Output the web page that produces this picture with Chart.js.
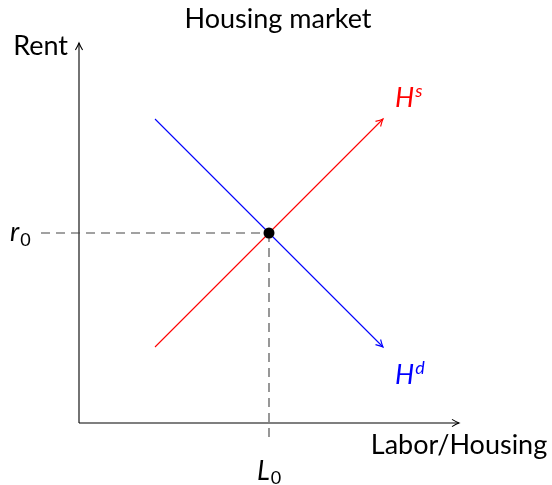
<!DOCTYPE html>
<html>
<head>
<meta charset="utf-8">
<script src="https://cdn.jsdelivr.net/npm/chart.js@4"></script>
<style>
  html, body { margin: 0; padding: 0; background: #fff; }
  #wrap { width: 552px; height: 485px; position: relative; }
</style>
</head>
<body>
<div id="wrap"><canvas id="market"></canvas></div>
<script>
// Data (diagram units, origin at the axes corner)
const supplyX = [1, 4];
const supplyY = [1, 4];
const demandX = [1, 4];
const demandY = [4, 1];
const axisEnd = 5;
const eqX = 2.5;   // L0
const eqY = 2.5;   // r0
const guideStartX = -0.5;
const guideEndY = -0.25;

const TITLE = 'Housing market';
const X_LABEL = 'Labor/Housing';
const Y_LABEL = 'Rent';

const pts = (xs, ys) => xs.map((x, i) => ({ x, y: ys[i] }));

const RED = 'rgb(255,0,0)';
const BLUE = 'rgb(0,0,255)';
const FONT = 'Lato, "DejaVu Sans", sans-serif';

function arrowHead(ctx, x0, y0, x1, y1, color) {
  const a = Math.atan2(y1 - y0, x1 - x0);
  const len = 7, spread = 3.6;
  ctx.save();
  ctx.translate(x1, y1);
  ctx.rotate(a);
  ctx.strokeStyle = color;
  ctx.lineWidth = 1.1;
  ctx.beginPath();
  ctx.moveTo(-len, -spread);
  ctx.quadraticCurveTo(-len * 0.35, -spread * 0.25, 0, 0);
  ctx.quadraticCurveTo(-len * 0.35, spread * 0.25, -len, spread);
  ctx.stroke();
  ctx.restore();
}

// main symbol in italic plus a small upright/italic index after it
function indexed(ctx, main, idx, x, y, dy, idxItalic) {
  ctx.textAlign = 'left';
  ctx.font = 'italic 27px ' + FONT;
  ctx.fillText(main, x, y);
  const w = ctx.measureText(main).width;
  ctx.font = (idxItalic ? 'italic ' : '') + '18px ' + FONT;
  ctx.fillText(idx, x + w + 1, y + dy);
}

const decorations = {
  id: 'decorations',
  afterDatasetsDraw(chart) {
    const ctx = chart.ctx;
    const X = v => chart.scales.x.getPixelForValue(v);
    const Y = v => chart.scales.y.getPixelForValue(v);

    // arrow tips
    arrowHead(ctx, X(0), Y(0), X(axisEnd), Y(0), '#000');
    arrowHead(ctx, X(0), Y(0), X(0), Y(axisEnd), '#000');
    arrowHead(ctx, X(supplyX[0]), Y(supplyY[0]), X(supplyX[1]), Y(supplyY[1]), RED);
    arrowHead(ctx, X(demandX[0]), Y(demandY[0]), X(demandX[1]), Y(demandY[1]), BLUE);

    ctx.save();
    ctx.textBaseline = 'alphabetic';

    // title
    ctx.fillStyle = '#000';
    ctx.font = '27px ' + FONT;
    ctx.textAlign = 'center';
    ctx.fillText(TITLE, X(2.5) + 9, Y(axisEnd) - 15);

    // axis labels
    ctx.textAlign = 'right';
    ctx.fillText(Y_LABEL, X(0) - 11, Y(axisEnd) + 12);
    ctx.textAlign = 'center';
    ctx.fillText(X_LABEL, X(axisEnd), Y(0) + 31);

    // r0, L0
    indexed(ctx, 'r', '0', X(guideStartX) - 31, Y(eqY) + 8, 5, false);
    indexed(ctx, 'L', '0', X(eqX) - 12, Y(0) + 57, 4, false);

    // H^s, H^d
    ctx.fillStyle = RED;
    indexed(ctx, 'H', 's', X(supplyX[1]) + 12, Y(supplyY[1]) - 12, -10, true);
    ctx.fillStyle = BLUE;
    indexed(ctx, 'H', 'd', X(demandX[1]) + 12, Y(demandY[1]) + 37, -10, true);
    ctx.restore();
  }
};

new Chart(document.getElementById('market'), {
  type: 'scatter',
  data: {
    datasets: [
      { data: pts([eqX], [eqY]), pointRadius: 5.5, pointBackgroundColor: '#000', pointBorderColor: '#000', pointBorderWidth: 0 },
      { data: pts(supplyX, supplyY), showLine: true, borderColor: RED, borderWidth: 1.1, pointRadius: 0 },
      { data: pts(demandX, demandY), showLine: true, borderColor: BLUE, borderWidth: 1.1, pointRadius: 0 },
      { data: pts([guideStartX, eqX], [eqY, eqY]), showLine: true, borderColor: '#444', borderWidth: 1.1, borderDash: [9, 6], pointRadius: 0 },
      { data: pts([eqX, eqX], [eqY, guideEndY]), showLine: true, borderColor: '#444', borderWidth: 1.1, borderDash: [9, 6], pointRadius: 0 },
      { data: pts([0, axisEnd], [0, 0]), showLine: true, borderColor: '#000', borderWidth: 1.1, pointRadius: 0 },
      { data: pts([0, 0], [0, axisEnd]), showLine: true, borderColor: '#000', borderWidth: 1.1, pointRadius: 0 }
    ]
  },
  plugins: [decorations],
  options: {
    responsive: true,
    maintainAspectRatio: false,
    animation: false,
    layout: { padding: 0, autoPadding: false },
    plugins: { legend: { display: false }, tooltip: { enabled: false } },
    scales: {
      x: { type: 'linear', display: false, min: -79 / 76, max: 473 / 76 },
      y: { type: 'linear', display: false, min: -62 / 76, max: 423 / 76 }
    }
  }
});
</script>
</body>
</html>
